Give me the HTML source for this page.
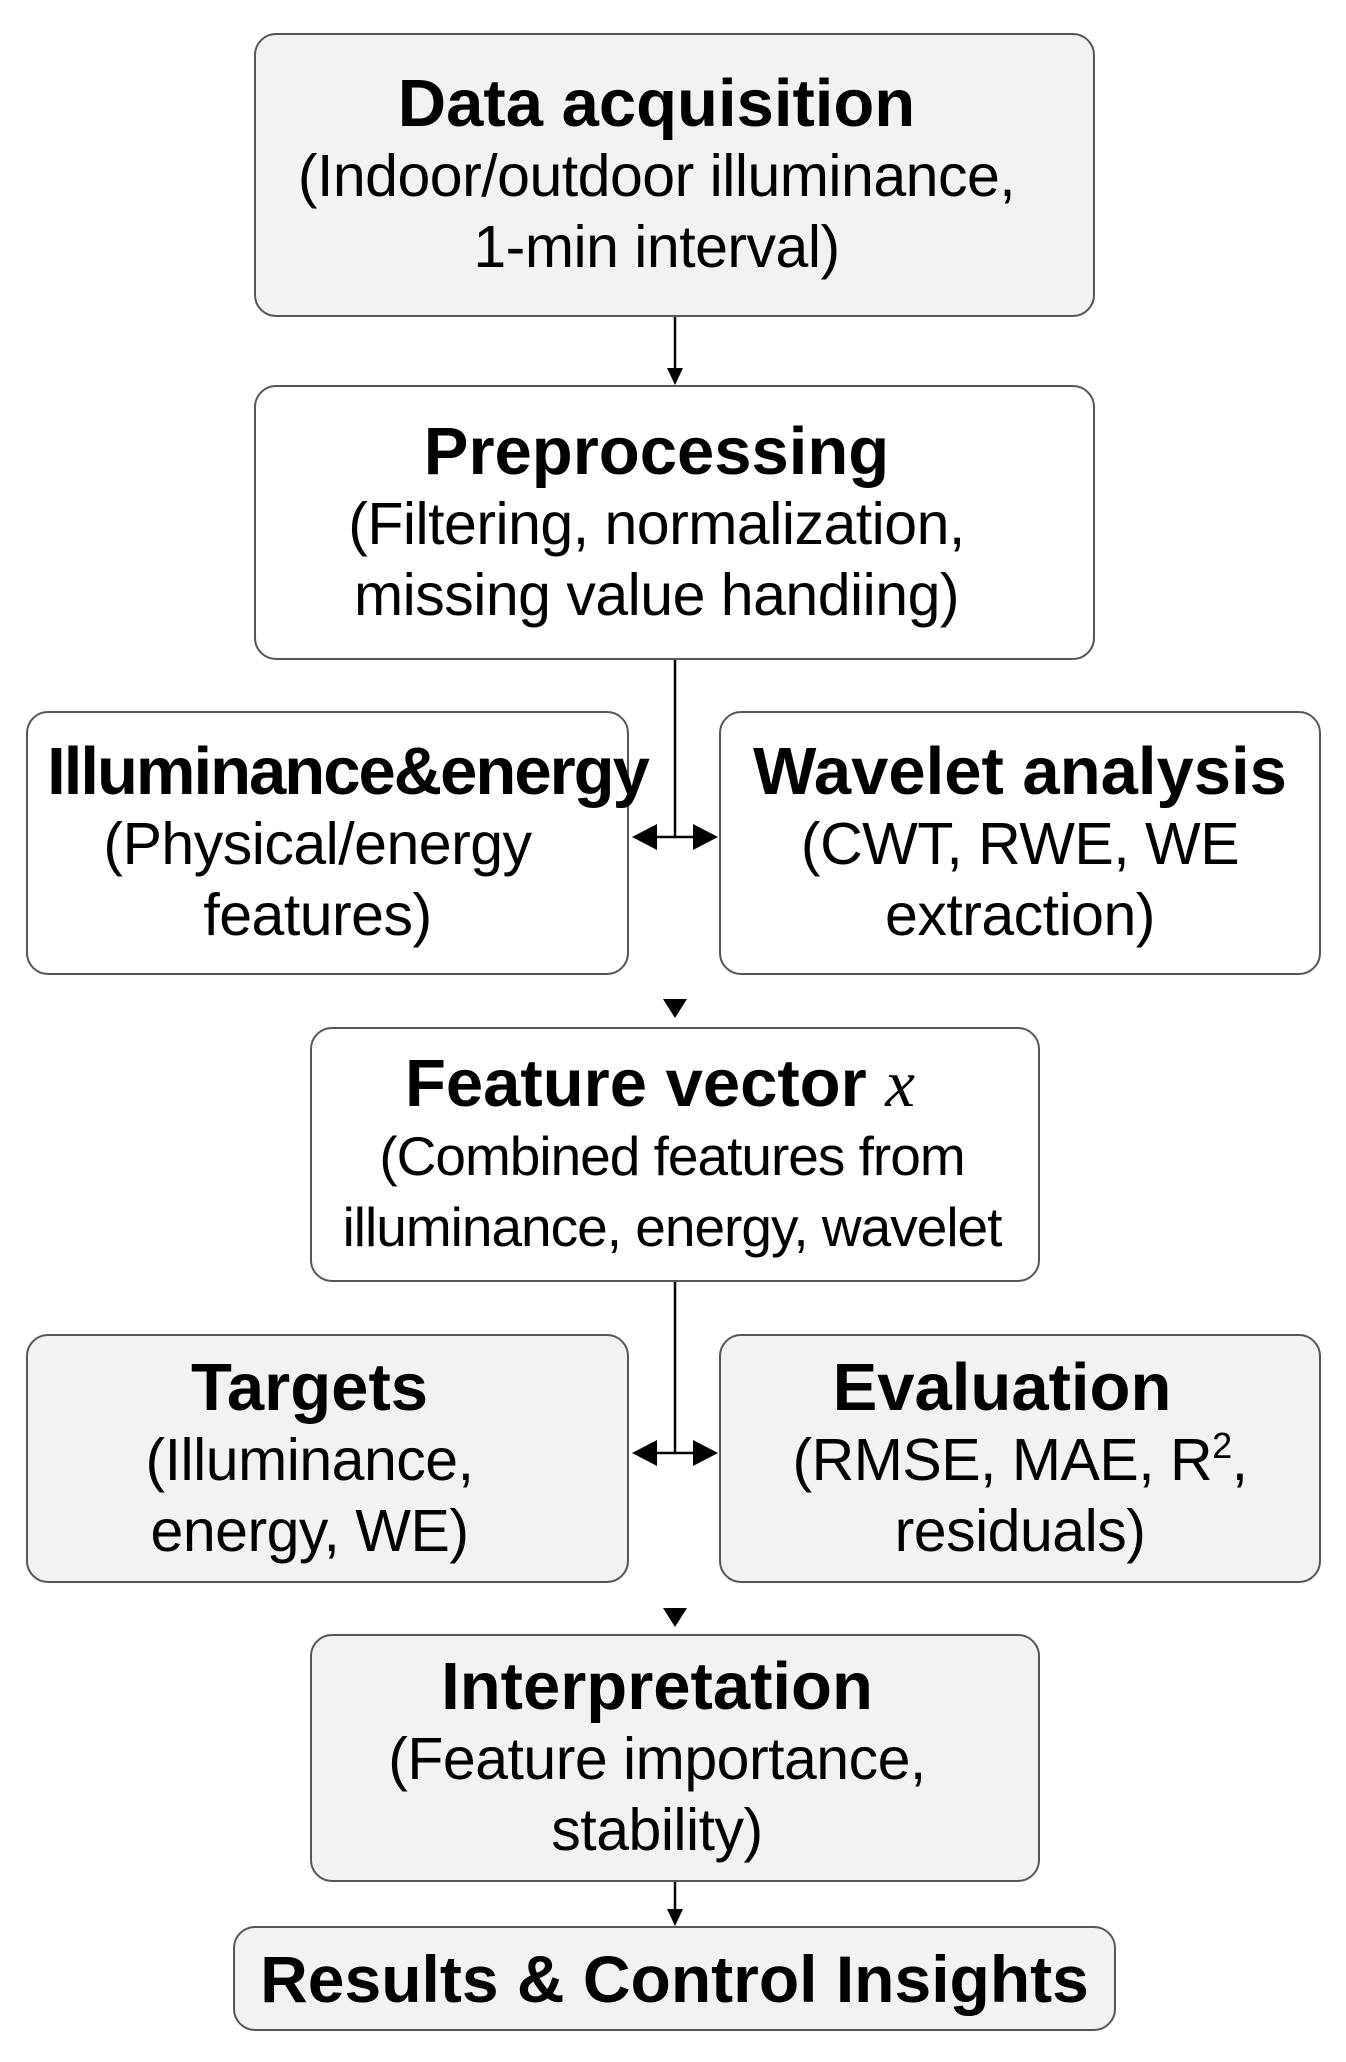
<!DOCTYPE html>
<html><head><meta charset="utf-8"><style>
body{margin:0;width:1346px;height:2062px;background:#fff;position:relative;font-family:"Liberation Sans",Arial,sans-serif;overflow:hidden}
.b{position:absolute;box-sizing:border-box;border:2.5px solid #555;border-radius:22px;display:flex;flex-direction:column;align-items:center;justify-content:center;text-align:center;color:#000;white-space:nowrap}
.g{background:#f2f2f2}.w{background:#fff}
.l{padding-right:36px}
.t{font-weight:bold;font-size:67px;line-height:74px}
.s{font-size:59px;line-height:71px;letter-spacing:-0.5px}
sup{font-size:36px;line-height:0;vertical-align:0;position:relative;top:-22px}
svg{position:absolute;left:0;top:0}
</style></head><body>
<div class="b g l" style="left:254px;top:33px;width:841px;height:284px"><div class="t">Data acquisition</div><div class="s">(Indoor/outdoor illuminance,<br>1-min interval)</div></div>
<div class="b w l" style="left:254px;top:385px;width:841px;height:275px"><div class="t">Preprocessing</div><div class="s">(Filtering, normalization,<br>missing value handiing)</div></div>
<div class="b w" style="left:26px;top:711px;width:603px;height:264px"><div class="t" style="letter-spacing:-2px;position:relative;left:20px">Illuminance&amp;energy</div><div class="s" style="position:relative;left:-10px">(Physical/energy<br>features)</div></div>
<div class="b w" style="left:719px;top:711px;width:602px;height:264px"><div class="t">Wavelet analysis</div><div class="s">(CWT, RWE, WE<br>extraction)</div></div>
<div class="b w l" style="left:310px;top:1027px;width:730px;height:255px;padding-right:30px"><div class="t">Feature vector <i style="font-family:'Liberation Serif',serif;font-weight:normal">x</i></div><div class="s" style="font-size:55px;letter-spacing:-1px;position:relative;left:12px">(Combined features from<br>illuminance, energy, wavelet</div></div>
<div class="b g l" style="left:26px;top:1334px;width:603px;height:249px"><div class="t">Targets</div><div class="s">(Illuminance,<br>energy, WE)</div></div>
<div class="b g" style="left:719px;top:1334px;width:602px;height:249px"><div class="t" style="position:relative;left:-18px">Evaluation</div><div class="s">(RMSE, MAE, R<sup>2</sup>,<br>residuals)</div></div>
<div class="b g l" style="left:310px;top:1634px;width:730px;height:248px"><div class="t">Interpretation</div><div class="s">(Feature importance,<br>stability)</div></div>
<div class="b g" style="left:233px;top:1926px;width:883px;height:105px"><div class="t" style="font-size:66px">Results &amp; Control Insights</div></div>
<svg width="1346" height="2062">
<g stroke="#000" stroke-width="2.5" fill="none">
<line x1="675" y1="317" x2="675" y2="370"/>
<line x1="675" y1="660" x2="675" y2="837"/>
<line x1="645" y1="837" x2="705" y2="837"/>
<line x1="675" y1="1282" x2="675" y2="1453"/>
<line x1="645" y1="1453" x2="705" y2="1453"/>
<line x1="675" y1="1882" x2="675" y2="1912"/>
</g>
<g fill="#000">
<polygon points="667,368 683,368 675,385"/>
<polygon points="632,837 657,824 657,850"/>
<polygon points="718,837 693,824 693,850"/>
<polygon points="663,999 687,999 675,1018"/>
<polygon points="632,1453 657,1440 657,1466"/>
<polygon points="718,1453 693,1440 693,1466"/>
<polygon points="663,1608 687,1608 675,1627"/>
<polygon points="667,1909 683,1909 675,1926"/>
</g>
</svg>
</body></html>
